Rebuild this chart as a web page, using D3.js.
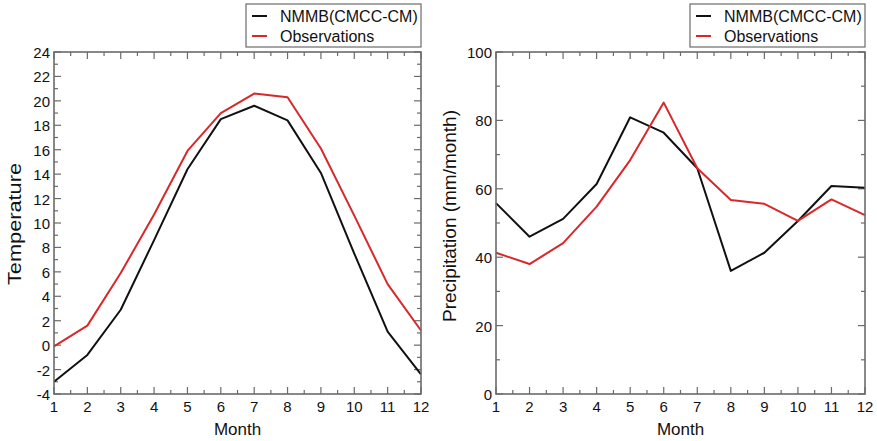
<!DOCTYPE html>
<html>
<head>
<meta charset="utf-8">
<script src="https://cdn.jsdelivr.net/npm/d3@7"></script>
<style>
  body { margin: 0; background: #fff; }
  svg { font-family: "Liberation Sans", Arial, sans-serif; }
</style>
</head>
<body>
<svg id="chart" width="877" height="441"></svg>
<script>
// month index shared by both panels
const months = [1, 2, 3, 4, 5, 6, 7, 8, 9, 10, 11, 12];

// temperature (deg C)
const tempModel = [-3.0, -0.8, 2.9, 8.6, 14.4, 18.5, 19.6, 18.4, 14.1, 7.5, 1.1, -2.4];
const tempObs   = [-0.1, 1.6, 5.9, 10.7, 15.9, 19.0, 20.6, 20.3, 16.1, 10.6, 5.0, 1.2];

// precipitation (mm/month)
const precModel = [55.8, 46.0, 51.2, 61.4, 80.9, 76.4, 66.0, 36.0, 41.3, 50.6, 60.8, 60.3];
const precObs   = [41.3, 38.0, 44.1, 54.8, 68.4, 85.2, 66.0, 56.7, 55.6, 50.6, 56.9, 52.3];

const seriesNames = ['NMMB(CMCC-CM)', 'Observations'];
const seriesColors = ['#111111', '#d8282a'];

const tempTicks = d3.range(-4, 25, 2);
const tempMinor = d3.range(-3, 24, 2);
const precTicks = [0, 20, 40, 60, 80, 100];
const precMinor = [10, 30, 50, 70, 90];

const svg = d3.select('#chart');
const frameColor = '#6b6b6b';

function panel(opts) {
  const { left, right, top, bottom, yDomain, yTicks, yMinor, yLabel, series } = opts;

  const x = d3.scaleLinear().domain([1, 12]).range([left, right]);
  const y = d3.scaleLinear().domain(yDomain).range([bottom, top]);
  const g = svg.append('g');

  const xMinor = d3.range(1.5, 12, 1);

  // ticks drawn inward on all four sides
  const tickLines = [];
  months.forEach(m => {
    tickLines.push([x(m), bottom, x(m), bottom - 7]);
    tickLines.push([x(m), top, x(m), top + 7]);
  });
  xMinor.forEach(m => {
    tickLines.push([x(m), bottom, x(m), bottom - 4]);
    tickLines.push([x(m), top, x(m), top + 4]);
  });
  yTicks.forEach(v => {
    tickLines.push([left, y(v), left + 7, y(v)]);
    tickLines.push([right, y(v), right - 7, y(v)]);
  });
  yMinor.forEach(v => {
    tickLines.push([left, y(v), left + 4, y(v)]);
    tickLines.push([right, y(v), right - 4, y(v)]);
  });

  g.selectAll('.tick')
    .data(tickLines)
    .enter()
    .append('line')
    .attr('x1', d => d[0]).attr('y1', d => d[1])
    .attr('x2', d => d[2]).attr('y2', d => d[3])
    .style('stroke', frameColor)
    .style('stroke-width', 1.2);

  // series lines
  const line = d3.line().x((d, i) => x(months[i])).y(d => y(d));
  series.forEach((s, i) => {
    g.append('path')
      .datum(s)
      .attr('d', line)
      .style('fill', 'none')
      .style('stroke', seriesColors[i])
      .style('stroke-width', 2)
      .style('stroke-linejoin', 'round');
  });

  // frame
  g.append('rect')
    .attr('x', left).attr('y', top)
    .attr('width', right - left).attr('height', bottom - top)
    .style('fill', 'none')
    .style('stroke', frameColor)
    .style('stroke-width', 1.6);

  // tick labels
  g.selectAll('.xlab')
    .data(months)
    .enter()
    .append('text')
    .attr('x', d => x(d))
    .attr('y', bottom + 18)
    .attr('text-anchor', 'middle')
    .style('font-size', '15px')
    .style('fill', '#111')
    .text(d => d);

  g.selectAll('.ylab')
    .data(yTicks)
    .enter()
    .append('text')
    .attr('x', left - 4)
    .attr('y', d => y(d) + 6)
    .attr('text-anchor', 'end')
    .style('font-size', '15px')
    .style('fill', '#111')
    .text(d => d);

  // axis titles
  g.append('text')
    .attr('x', (left + right) / 2)
    .attr('y', 435)
    .attr('text-anchor', 'middle')
    .style('font-size', '17px')
    .style('fill', '#111')
    .text('Month');

  g.append('text')
    .attr('transform', `translate(${yLabel.x},${yLabel.y}) rotate(-90)`)
    .attr('text-anchor', 'middle')
    .attr('textLength', yLabel.len)
    .attr('lengthAdjust', 'spacingAndGlyphs')
    .style('font-size', '19px')
    .style('fill', '#111')
    .text(yLabel.text);

  // legend
  const lg = g.append('g').attr('transform', `translate(${right - 175},4)`);
  lg.append('rect')
    .attr('width', 175).attr('height', 43)
    .style('fill', '#fff')
    .style('stroke', frameColor)
    .style('stroke-width', 1.2);
  seriesNames.forEach((name, i) => {
    const ly = 12 + i * 20;
    lg.append('line')
      .attr('x1', 6).attr('x2', 21)
      .attr('y1', ly).attr('y2', ly)
      .style('stroke', seriesColors[i])
      .style('stroke-width', 2);
    lg.append('text')
      .attr('x', 34).attr('y', ly + 6)
      .style('font-size', '16px')
      .style('fill', '#111')
      .text(name);
  });
}

panel({
  left: 54, right: 421, top: 52, bottom: 394,
  yDomain: [-4, 24], yTicks: tempTicks, yMinor: tempMinor,
  yLabel: { text: 'Temperature', x: 21, y: 224, len: 122 },
  series: [tempModel, tempObs]
});

panel({
  left: 496, right: 865, top: 52, bottom: 394,
  yDomain: [0, 100], yTicks: precTicks, yMinor: precMinor,
  yLabel: { text: 'Precipitation (mm/month)', x: 456, y: 216, len: 212 },
  series: [precModel, precObs]
});
</script>
</body>
</html>
